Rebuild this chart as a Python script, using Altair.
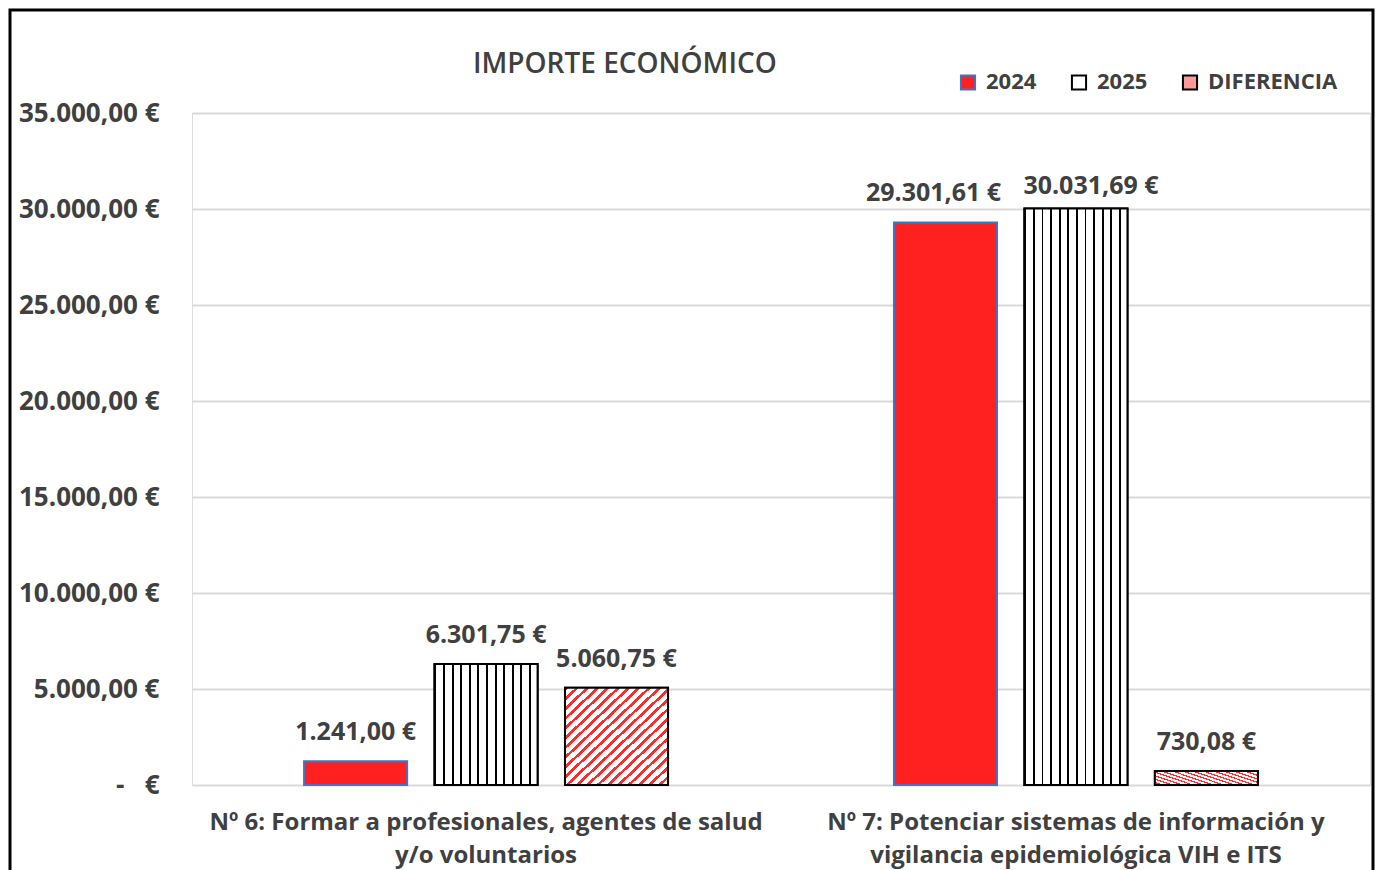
import altair as alt
import pandas as pd

categories = [
    "Nº 6: Formar a profesionales, agentes de salud\ny/o voluntarios",
    "Nº 7: Potenciar sistemas de información y\nvigilancia epidemiológica VIH e ITS",
]
series = ["2024", "2025", "DIFERENCIA"]
values_2024 = [1241.00, 29301.61]
values_2025 = [6301.75, 30031.69]
values_dif = [5060.75, 730.08]
y_ticks = [0, 5000, 10000, 15000, 20000, 25000, 30000, 35000]

rows = []
for i, c in enumerate(categories):
    rows.append({"cat": c, "series": "2024", "value": values_2024[i]})
    rows.append({"cat": c, "series": "2025", "value": values_2025[i]})
    rows.append({"cat": c, "series": "DIFERENCIA", "value": values_dif[i]})
df = pd.DataFrame(rows)

FONT = "Open Sans"
TXT = "#404040"


def stripes(n, c_bg, c_line, frac, x2=1, y2=0):
    stops = []
    for k in range(n):
        a = k / n
        b = (k + frac) / n
        e = (k + 1) / n
        stops += [
            alt.GradientStop(offset=a, color=c_line),
            alt.GradientStop(offset=b, color=c_line),
            alt.GradientStop(offset=b, color=c_bg),
            alt.GradientStop(offset=e, color=c_bg),
        ]
    return alt.LinearGradient(gradient="linear", stops=stops, x1=0, y1=0, x2=x2, y2=y2)


grad_2025 = stripes(12, "#ffffff", "#000000", 0.22)
grad_dif = stripes(20, "#ffffff", "#ff2a2a", 0.38, x2=1, y2=1)

x_enc = alt.X(
    "cat:N",
    sort=categories,
    scale=alt.Scale(paddingInner=0.383, paddingOuter=0.19),
    axis=alt.Axis(
        title=None,
        labelExpr="split(datum.label, '\\n')",
        labelAngle=0,
        labelFont=FONT,
        labelFontSize=24,
        labelFontWeight="bold",
        labelColor=TXT,
        labelPadding=25,
        labelLineHeight=33,
        labelLimit=1000,
        ticks=False,
        domain=False,
        grid=False,
    ),
)
xoff_enc = alt.XOffset(
    "series:N", sort=series, scale=alt.Scale(domain=series, paddingInner=0.21, paddingOuter=0)
)
y_enc = alt.Y(
    "value:Q",
    scale=alt.Scale(domain=[0, 35000]),
    axis=alt.Axis(
        title=None,
        values=y_ticks,
        format="$,.2f",
        labelExpr="datum.value == 0 ? '-\u00a0\u00a0\u00a0€' : datum.label",
        labelFont=FONT,
        labelFontSize=26,
        labelFontWeight="bold",
        labelColor=TXT,
        labelPadding=33,
        ticks=False,
        domain=False,
        gridColor="#d9d9d9",
        gridWidth=2,
    ),
)

legend = alt.Legend(
    title=None,
    orient="none",
    legendX=765,
    legendY=-42,
    direction="horizontal",
    symbolType="square",
    symbolSize=200,
    symbolStrokeWidth=2,
    labelFont=FONT,
    labelFontSize=22,
    labelFontWeight="bold",
    labelColor=TXT,
    columnPadding=30,
    labelOffset=7,
)

base = alt.Chart(df).encode(x=x_enc, xOffset=xoff_enc, y=y_enc)

bars = base.mark_bar(strokeWidth=2).encode(
    fill=alt.Fill(
        "series:N",
        sort=series,
        scale=alt.Scale(domain=series, range=["#ff2020", "#ffffff", "#ff9a9a"]),
        legend=legend,
    ),
    stroke=alt.Stroke(
        "series:N",
        sort=series,
        scale=alt.Scale(domain=series, range=["#4472c4", "#000000", "#000000"]),
        legend=legend,
    ),
)

bars_2025 = base.transform_filter(alt.datum.series == "2025").mark_bar(
    fill=grad_2025, stroke="#000000", strokeWidth=2
)
bars_dif = base.transform_filter(alt.datum.series == "DIFERENCIA").mark_bar(
    fill=grad_dif, stroke="#000000", strokeWidth=2
)

label_style = dict(baseline="alphabetic", font=FONT, fontSize=25, fontWeight="bold", color=TXT)
txt = alt.Text("value:Q", format="$,.2f")
crowded = (alt.datum.value > 20000)
labels_plain = base.transform_filter(~crowded).mark_text(dy=-21, **label_style).encode(text=txt)
labels_left = base.transform_filter(crowded & (alt.datum.series == "2024")).mark_text(
    dy=-21, dx=-12, **label_style
).encode(text=txt)
labels_right = base.transform_filter(crowded & (alt.datum.series == "2025")).mark_text(
    dy=-14, dx=15, **label_style
).encode(text=txt)

frame = alt.Chart(pd.DataFrame({"f": [0]})).mark_rect(
    fill="transparent", stroke="#000000", strokeWidth=3
).encode(
    x=alt.value(-182), x2=alt.value(1181), y=alt.value(-103), y2=alt.value(770)
)

chart = (
    alt.layer(bars, bars_2025, bars_dif, labels_plain, labels_left, labels_right, frame)
    .properties(
        width=1178,
        height=672,
        padding=0,
        title=alt.TitleParams(
            "IMPORTE ECONÓMICO",
            anchor="start",
            frame="group",
            dx=281,
            offset=-92,
            baseline="alphabetic",
            font=FONT,
            fontSize=28,
            fontWeight=600,
            color=TXT,
        ),
    )
    .configure_view(stroke=None)
    .configure(
        locale=alt.Locale(
            number=alt.NumberLocale(
                decimal=",", thousands=".", grouping=[3], currency=["", " €"]
            )
        )
    )
)

chart.save("out.html", embed_options={"renderer": "svg", "actions": False})
